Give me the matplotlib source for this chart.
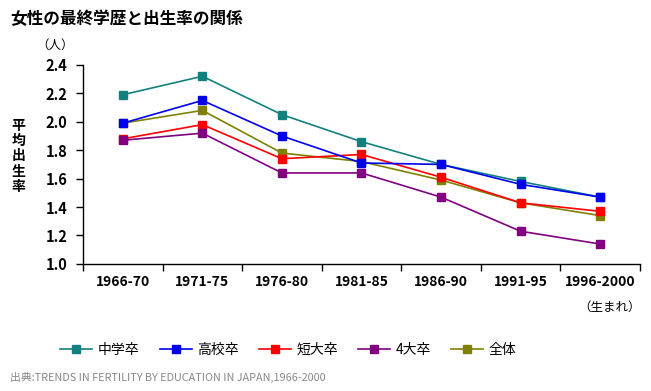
import matplotlib
matplotlib.use("Agg")
import matplotlib.pyplot as plt
from matplotlib.ticker import FixedLocator, NullFormatter

plt.rcParams['font.family'] = ['Noto Sans CJK JP', 'DejaVu Sans']

categories = ["1966-70", "1971-75", "1976-80", "1981-85", "1986-90", "1991-95", "1996-2000"]
series_names = ["中学卒", "高校卒", "短大卒", "4大卒", "全体"]
chugaku = [2.19, 2.32, 2.05, 1.86, 1.70, 1.58, 1.47]
koko = [1.99, 2.15, 1.90, 1.71, 1.70, 1.56, 1.47]
tandai = [1.88, 1.98, 1.74, 1.77, 1.61, 1.43, 1.37]
daigaku4 = [1.87, 1.92, 1.64, 1.64, 1.47, 1.23, 1.14]
zentai = [1.99, 2.08, 1.78, 1.72, 1.59, 1.43, 1.34]
yticks = [1.0, 1.2, 1.4, 1.6, 1.8, 2.0, 2.2, 2.4]

colors = ["#138080", "#0000ee", "#ff0000", "#800080", "#808000"]
data = [chugaku, koko, tandai, daigaku4, zentai]

fig = plt.figure(figsize=(6.51, 3.91), dpi=100)
ax = fig.add_axes([0.1275, 0.325, 0.983 - 0.1275, 0.834 - 0.325])

x = list(range(len(categories)))
order = [0, 4, 2, 3, 1]
handles = {}
for i in order:
    ln, = ax.plot(x, data[i], color=colors[i], marker='s', markersize=6,
                  linewidth=1.2, label=series_names[i], zorder=3 + (1 if i == 1 else 0))
    handles[i] = ln

ax.set_xlim(-0.5, len(categories) - 0.5)
ax.set_ylim(1.0, 2.4)
ax.set_yticks(yticks)
ax.set_yticklabels([f"{v:.1f}" for v in yticks], fontsize=10.5, fontweight='bold')
ax.set_xticks(x)
ax.set_xticklabels(categories, fontsize=10, fontweight='bold')
ax.xaxis.set_minor_locator(FixedLocator([k - 0.5 for k in range(len(categories) + 1)]))
ax.xaxis.set_minor_formatter(NullFormatter())
ax.tick_params(axis='x', which='major', length=0, pad=8)
ax.tick_params(axis='x', which='minor', length=5, direction='out', width=1)
ax.tick_params(axis='y', which='major', length=5, direction='out', width=1, pad=6)
for s in ['top', 'right']:
    ax.spines[s].set_visible(False)
for s in ['left', 'bottom']:
    ax.spines[s].set_linewidth(1)

fig.text(0.015, 0.975, "女性の最終学歴と出生率の関係", fontsize=12, fontweight='bold',
         ha='left', va='top')
fig.text(0.085, 0.885, "（人）", fontsize=9, ha='center', va='center')
fig.text(0.028, 0.60, "\n".join("平均出生率"), fontsize=10, fontweight='bold',
         ha='center', va='center', linespacing=1.12)
fig.text(0.985, 0.215, "（生まれ）", fontsize=9, ha='right', va='center')
fig.text(0.015, 0.035, "出典:TRENDS IN FERTILITY BY EDUCATION IN JAPAN,1966-2000",
         fontsize=7.8, color='#888888', ha='left', va='center')

leg = fig.legend([handles[i] for i in range(5)], series_names, loc='center',
                 bbox_to_anchor=(0.443, 0.105), ncol=5, frameon=False,
                 fontsize=10, handlelength=2.3, columnspacing=1.45, handletextpad=0.4)

fig.savefig("out.png", dpi=100)
